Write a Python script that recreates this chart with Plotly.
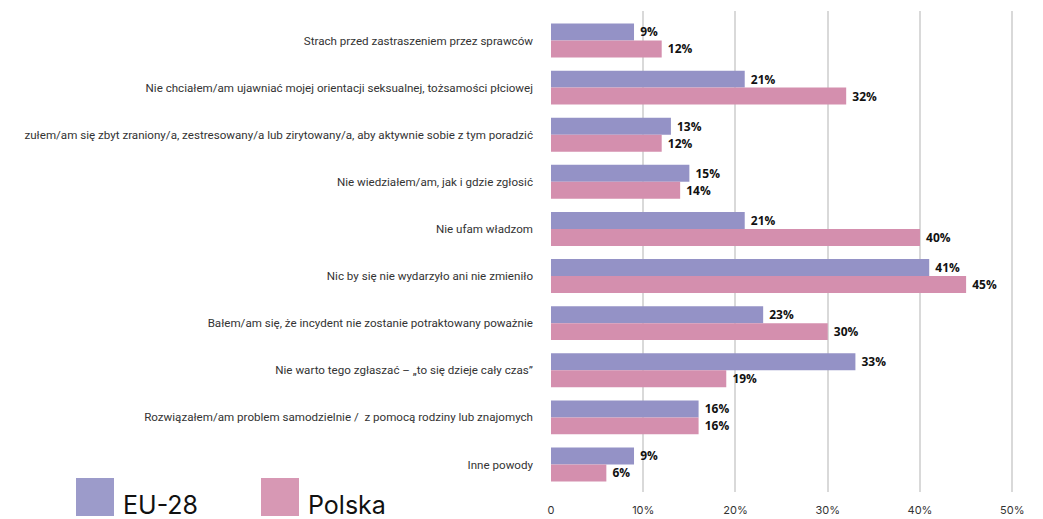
import plotly.graph_objects as go

categories = [
    "Strach przed zastraszeniem przez sprawców",
    "Nie chciałem/am ujawniać mojej orientacji seksualnej, tożsamości płciowej",
    "zułem/am się zbyt zraniony/a, zestresowany/a lub zirytowany/a, aby aktywnie sobie z tym poradzić",
    "Nie wiedziałem/am, jak i gdzie zgłosić",
    "Nie ufam władzom",
    "Nic by się nie wydarzyło ani nie zmieniło",
    "Bałem/am się, że incydent nie zostanie potraktowany poważnie",
    "Nie warto tego zgłaszać – „to się dzieje cały czas”",
    "Rozwiązałem/am problem samodzielnie /  z pomocą rodziny lub znajomych",
    "Inne powody",
]
eu28 = [9, 21, 13, 15, 21, 41, 23, 33, 16, 9]
polska = [12, 32, 12, 14, 40, 45, 30, 19, 16, 6]
series_names = ["EU-28", "Polska"]
tick_vals = [0, 10, 20, 30, 40, 50]
tick_text = ["0", "10%", "20%", "30%", "40%", "50%"]

C_EU = "#9492C6"
C_PL = "#D48FAE"
W, H = 1043, 519
ML, MR, MT, MB = 551, 28, 11, 27

fig = go.Figure()
for name, vals, col in [(series_names[0], eu28, C_EU), (series_names[1], polska, C_PL)]:
    fig.add_trace(go.Bar(
        y=categories, x=vals, orientation="h", name=name,
        marker=dict(color=col, line=dict(width=0)),
        text=[f" {v}%" for v in vals], textposition="outside",
        textfont=dict(family="Open Sans", size=12, color="#111111", weight="bold"),
        cliponaxis=False, showlegend=False,
    ))

fig.update_layout(
    width=W, height=H,
    margin=dict(l=ML, r=MR, t=MT, b=MB, autoexpand=False),
    barmode="group", bargap=0.28, bargroupgap=0,
    plot_bgcolor="white", paper_bgcolor="white",
    font=dict(family="Roboto", size=11, color="#333333"),
    xaxis=dict(range=[0, 50.3], tickvals=tick_vals, ticktext=tick_text,
               showgrid=True, gridcolor="#d9d9d9", gridwidth=1.6,
               zeroline=False, showline=False, ticks="", ticklabelstandoff=10,
               automargin=False,
               tickfont=dict(family="Inter", size=11, color="#333333")),
    yaxis=dict(range=[9.584, -0.626], showgrid=False, zeroline=False, showline=False,
               ticks="", ticklabelstandoff=17, automargin=False,
               tickfont=dict(family="Roboto", size=11.6, color="#333333")),
)

pw = W - ML - MR
ph = H - MT - MB
def px2x(p):
    return (p - ML) / pw
def py2y(p):
    return (H - MB - p) / ph

legend_items = [(series_names[0], C_EU, 76), (series_names[1], C_PL, 261)]
for name, col, x0 in legend_items:
    fig.add_shape(type="rect", xref="paper", yref="paper",
                  x0=px2x(x0), x1=px2x(x0 + 38), y0=py2y(516), y1=py2y(478),
                  fillcolor=col, opacity=0.92, line=dict(width=0))
    fig.add_annotation(xref="paper", yref="paper", x=px2x(x0 + 45), y=py2y(505),
                       text=name, showarrow=False, xanchor="left", yanchor="middle",
                       font=dict(family="Inter", size=25, color="#111111"))

fig.write_html("out.html", config={"displayModeBar": False},
               post_script="document.body.style.margin='0';document.body.style.padding='0';")
